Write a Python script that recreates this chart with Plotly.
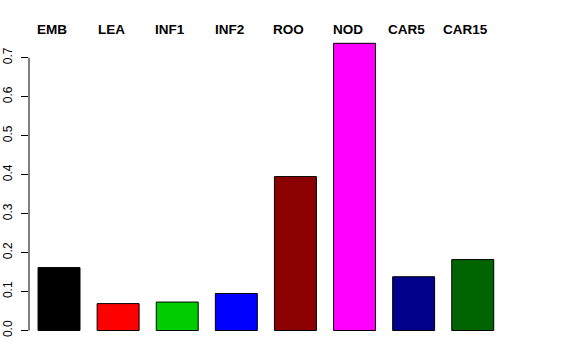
import plotly.graph_objects as go

categories = ["EMB", "LEA", "INF1", "INF2", "ROO", "NOD", "CAR5", "CAR15"]
values = [0.1615, 0.069, 0.073, 0.095, 0.395, 0.737, 0.138, 0.182]
colors = ["#000000", "#FF0000", "#00CD00", "#0000FF", "#8B0000", "#FF00FF", "#00008B", "#006400"]
y_ticks = [0.0, 0.1, 0.2, 0.3, 0.4, 0.5, 0.6, 0.7]

fig = go.Figure()
fig.add_trace(go.Bar(
    x=categories, y=values,
    marker=dict(color=colors, line=dict(color="#000000", width=1)),
    showlegend=False,
))

for c in categories:
    fig.add_annotation(
        x=c, y=1.008, xref="x", yref="paper", text="<b>%s</b>" % c,
        showarrow=False, xshift=-7, yanchor="middle",
        font=dict(family="Liberation Sans, Arial, sans-serif", size=13.5, color="#000000"),
    )

fig.add_shape(type="line", xref="paper", yref="y", x0=0, x1=0, y0=0, y1=0.7,
              line=dict(color="#000000", width=1))

fig.update_layout(
    width=576, height=360,
    margin=dict(l=29, r=73, t=32, b=18, autoexpand=False),
    paper_bgcolor="white", plot_bgcolor="white",
    bargap=0.29,
    font=dict(family="Liberation Sans, Arial, sans-serif", color="#000000"),
    xaxis=dict(range=[-0.508, 7.512], showticklabels=False, showgrid=False,
               zeroline=False, showline=False, ticks="", automargin=False),
    yaxis=dict(range=[-0.0295, 0.766], tickvals=y_ticks,
               ticktext=["%.1f" % v for v in y_ticks],
               tickangle=-90, ticks="outside", ticklen=7, tickcolor="#000000",
               ticklabelstandoff=4,
               showgrid=False, zeroline=False, showline=False, automargin=False,
               tickfont=dict(size=12, color="#000000")),
)

fig.write_html("out.html", config={"displayModeBar": False},
               post_script="document.body.style.margin='0';")
